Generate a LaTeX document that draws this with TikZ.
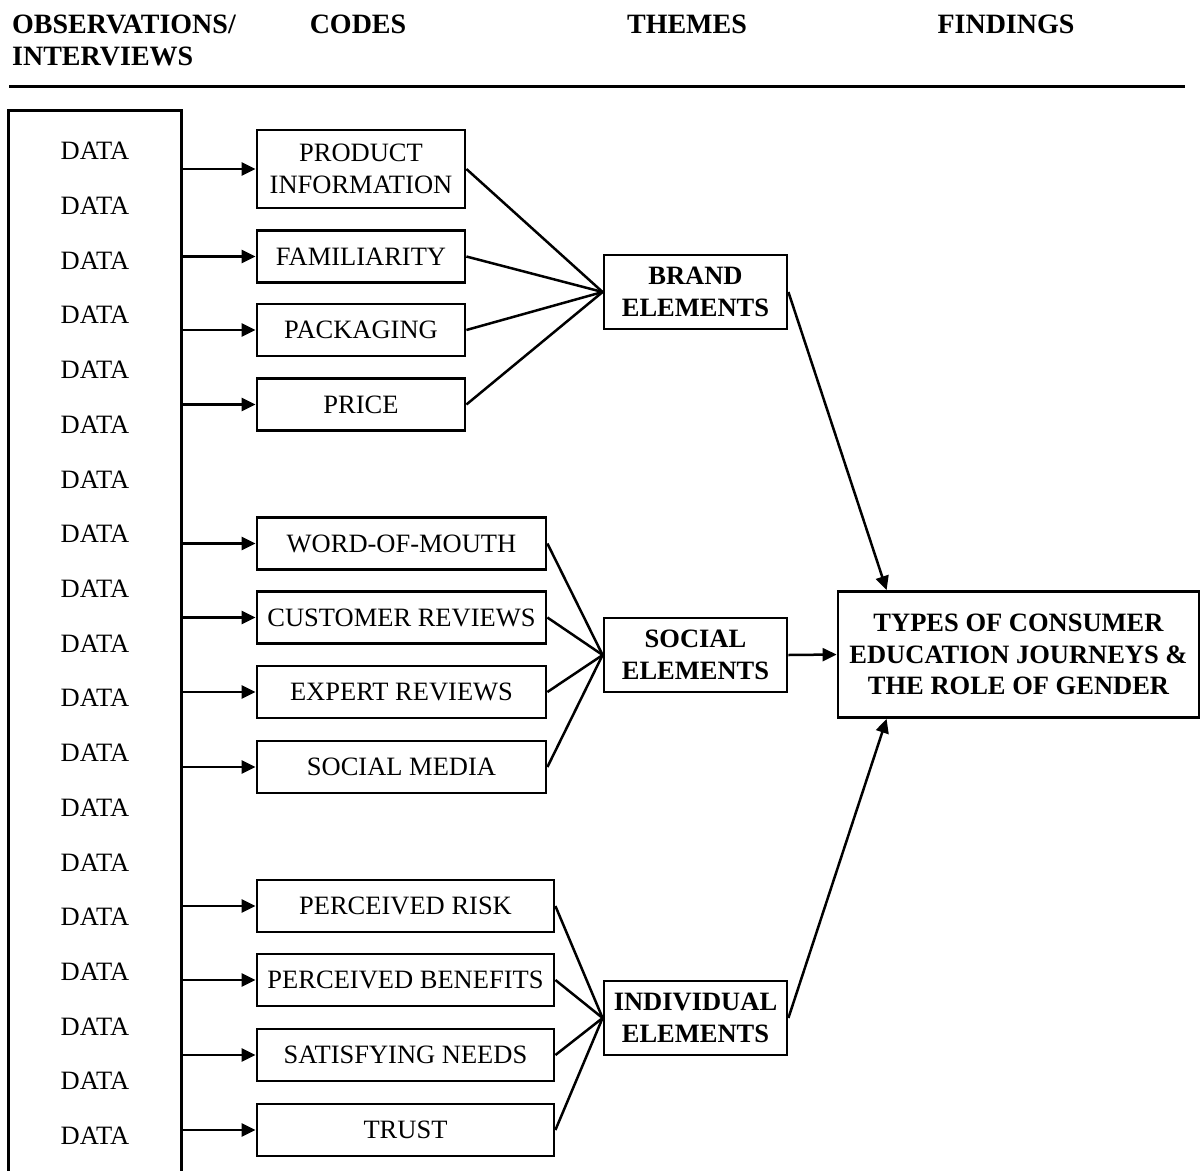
\documentclass[tikz,border=0pt]{standalone}
\usepackage{fontspec}
\setmainfont{Liberation Serif}
\usetikzlibrary{arrows.meta}
\begin{document}
\begin{tikzpicture}[x=1pt,y=-1pt,
  every node/.style={font=\fontsize{26.5}{31.5}\selectfont, inner sep=0pt},
  head/.style={font=\fontsize{28}{32}\selectfont\bfseries},
  datalabel/.style={},
  codebox/.style={draw, line width=2.8pt, minimum height=52pt, align=center},
  themebox/.style={draw, line width=2.8pt, minimum width=183pt, minimum height=74pt, align=center, font=\fontsize{26.5}{31.5}\selectfont\bfseries},
  link/.style={line width=2.5pt},
  arr/.style={line width=2.5pt, -{Triangle[length=14pt,width=13pt]}}
]
\useasboundingbox (0,0) rectangle (1201,1170);

% column headings
\node[head, anchor=base west] (h-obs) at (12,33) {OBSERVATIONS/};
\node[head, anchor=base west] (h-int) at (12,65) {INTERVIEWS};
\node[head, anchor=base] (h-codes) at (358,33) {CODES};
\node[head, anchor=base] (h-themes) at (687,33) {THEMES};
\node[head, anchor=base] (h-find) at (1006,33) {FINDINGS};
\coordinate (rule-l) at (9,86);
\coordinate (rule-r) at (1185,86);
\draw[line width=3pt] (rule-l) -- (rule-r);

% data column (open at the bottom)
\node[minimum width=172pt, minimum height=1065pt] (datacol) at (95,643.5) {};
\draw[line width=2.8pt] (datacol.south west) -- (datacol.north west) -- (datacol.north east) -- (datacol.south east);
\foreach \i in {1,...,19}{
  \node[datalabel] (d\i) at (95,{151+(\i-1)*54.72}) {DATA};
}

% codes
\node[codebox, minimum width=208pt, minimum height=78pt] (c1) at (361,169) {PRODUCT\\INFORMATION};
\node[codebox, minimum width=208pt] (c2) at (361,256.5) {FAMILIARITY};
\node[codebox, minimum width=208pt] (c3) at (361,330) {PACKAGING};
\node[codebox, minimum width=208pt] (c4) at (361,404.5) {PRICE};
\node[codebox, minimum width=289pt] (c5) at (401.5,543.5) {WORD-OF-MOUTH};
\node[codebox, minimum width=289pt] (c6) at (401.5,617.5) {CUSTOMER REVIEWS};
\node[codebox, minimum width=289pt] (c7) at (401.5,692) {EXPERT REVIEWS};
\node[codebox, minimum width=289pt] (c8) at (401.5,767) {SOCIAL MEDIA};
\node[codebox, minimum width=297pt] (c9) at (405.5,906) {PERCEIVED RISK};
\node[codebox, minimum width=297pt] (c10) at (405.5,980) {PERCEIVED BENEFITS};
\node[codebox, minimum width=297pt] (c11) at (405.5,1055) {SATISFYING NEEDS};
\node[codebox, minimum width=297pt] (c12) at (405.5,1130) {TRUST};

% themes
\node[themebox] (brand) at (695.5,292) {BRAND\\ELEMENTS};
\node[themebox] (social) at (695.5,655) {SOCIAL\\ELEMENTS};
\node[themebox] (indiv) at (695.5,1018) {INDIVIDUAL\\ELEMENTS};

% findings
\node[draw, line width=2.8pt, minimum width=361pt, minimum height=126pt, align=center,
      font=\fontsize{26.5}{31.5}\selectfont\bfseries] (findings) at (1018.5,654.5)
  {TYPES OF CONSUMER\\EDUCATION JOURNEYS \&\\THE ROLE OF GENDER};
\coordinate (fin-top) at ([xshift=50pt]findings.north west);
\coordinate (fin-bot) at ([xshift=50pt]findings.south west);

% data to codes
\foreach \c in {c1,c2,c3,c4,c5,c6,c7,c8,c9,c10,c11,c12}{
  \draw[arr] (datacol.east |- \c.west) -- (\c.west);
}

% codes to themes
\foreach \c in {c1,c2,c3,c4}{ \draw[link] (\c.east) -- (brand.west); }
\foreach \c in {c5,c6,c7,c8}{ \draw[link] (\c.east) -- (social.west); }
\foreach \c in {c9,c10,c11,c12}{ \draw[link] (\c.east) -- (indiv.west); }

% themes to findings
\draw[arr] (brand.east) -- (fin-top);
\draw[arr] (social.east) -- (findings.west);
\draw[arr] (indiv.east) -- (fin-bot);
\end{tikzpicture}
\end{document}
